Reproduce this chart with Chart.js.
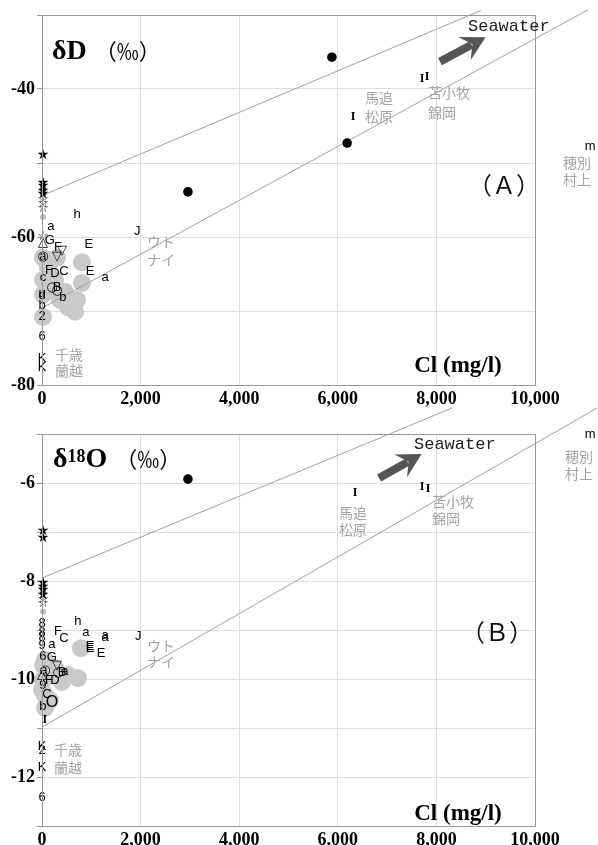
<!DOCTYPE html>
<html>
<head>
<meta charset="utf-8">
<title>δD・δ18O と Cl の関係</title>
<script src="https://cdn.jsdelivr.net/npm/chart.js"></script>
<style>
  body { margin: 0; background: #fff; }
  .panel { position: absolute; left: 0; width: 598px; }
  #panelA { top: 0; height: 420px; }
  #panelB { top: 400px; height: 445px; }
</style>
</head>
<body>
<div class="panel" id="panelA"><canvas id="chartA"></canvas></div>
<div class="panel" id="panelB"><canvas id="chartB"></canvas></div>
<script>
// ---- 軸 ----
const xTickStep = 2000;
const aYLabels = [-40, -60, -80];
const bYLabels = [-6, -8, -10, -12];

// ---- (A) δD ----
const aGlyphX = [20, 20, 20, 20, 20, 20, 20, 20,
  180, 710, 1930, 950, 975, 1280, 160, 20, 20, 325, 405, 305, 20, 20,
  140, 265, 445, 20, 200, 305, 305, 425, 0, 0, 0, 0, 0, 0, 0,
  6310, 7710, 7810, 11120];
const aGlyphY = [-48.9, -52.7, -53.2, -53.8, -54.3, -54.9, -55.5, -56.2,
  -58.6, -57.0, -59.3, -61.0, -64.7, -65.4, -60.4, -59.9, -60.8, -61.4, -61.8, -62.6, -62.6, -62.6,
  -64.5, -64.9, -64.7, -65.4, -66.9, -67.2, -66.8, -68.1, -67.6, -67.9, -69.2, -70.8, -73.5, -76.4, -77.6,
  -43.8, -38.6, -38.4, -47.8];
const aGlyphs = ['★', '★', '★', '★', '★', '☆', '☆', '☆',
  'a', 'h', 'J', 'E', 'E', 'a', 'G', '☆', '△', 'F', '▽', '▽', '○', 'a',
  'F', 'D', 'C', 'c', '○', '○', 'B', 'b', 'u', 'd', 'b', '2', '6', 'K', 'K',
  'I', 'I', 'I', 'm'];
const aDotX = [5880, 6190, 2960];
const aDotY = [-35.7, -47.3, -53.9];
const aSmallX = [20];
const aSmallY = [-57.3];
const aGrayX = [20, 120, 20, 160, 365, 530, 710, 670, 810, 810, 20, 305, 265, 20, 465];
const aGrayY = [-62.8, -64.2, -65.8, -67.2, -68.5, -69.5, -68.5, -70.1, -63.4, -66.2, -70.8, -62.8, -65.8, -67.8, -67.4];
const aMixUpperX = [0, 8900];
const aMixUpperY = [-54.4, -29.4];
const aMixLowerX = [0, 11075];
const aMixLowerY = [-69.6, -29.3];

// ---- (B) δ18O ----
const bGlyphX = [20, 20, 20, 20, 20, 20, 20, 20,
  0, 0, 0, 0, 200, 20, 200,
  730, 890, 1280, 1280, 1950, 325, 445, 975, 975, 1200,
  60, 40, 0, 305, 325, 405, 465, 140, 265,
  20, 100, 20, 200, 60, 0, 0, 0, 0,
  6350, 7710, 7830, 11120];
const bGlyphY = [-6.98, -7.12, -8.04, -8.12, -8.2, -8.29, -8.37, -8.47,
  -8.86, -9.04, -9.16, -9.31, -9.29, -9.53, -9.55,
  -8.82, -9.04, -9.16, -9.12, -9.14, -9.02, -9.18, -9.33, -9.37, -9.47,
  -9.82, -9.82, -9.92, -9.73, -9.86, -9.86, -9.84, -10.02, -10.02,
  -10.14, -10.31, -10.55, -10.49, -10.84, -11.37, -11.45, -11.8, -12.41,
  -6.2, -6.08, -6.12, -5.0];
const bGlyphs = ['★', '★', '★', '★', '★', '★', '☆', '☆',
  '8', '8', '8', '9', 'a', '6', 'G',
  'h', 'a', 'a', 'a', 'J', 'F', 'C', 'E', 'E', 'E',
  '○', 'a', '△', '▽', '○', 'B', 'a', 'F', 'D',
  '9', 'C', 'b', 'O', 'I', 'K', '2', 'K', '6',
  'I', 'I', 'I', 'm'];
const bDotX = [2960];
const bDotY = [-5.92];
const bSmallX = [20];
const bSmallY = [-8.63];
const bGrayX = [790, 60, 265, 530, 730, 20, 60, 60, 405, 20, 265, 0, 160];
const bGrayY = [-9.37, -9.61, -9.78, -9.92, -9.98, -10.02, -10.33, -10.59, -10.06, -9.71, -9.92, -10.22, -10.43];
const bMixUpperX = [0, 8316];
const bMixUpperY = [-7.94, -4.47];
const bMixLowerX = [0, 11258];
const bMixLowerY = [-10.98, -4.47];

// ---- 地域名など ----
const aAreaText = ['馬追', '松原', '苫小牧', '錦岡', '穂別', '村上', 'ウト', 'ナイ', '千歳', '蘭越'];
const aAreaX = [6550, 6550, 7830, 7830, 10568, 10568, 2130, 2130, 265, 265];
const aAreaY = [-41.2, -43.8, -40.5, -43.2, -50.0, -52.3, -60.7, -63.1, -75.9, -78.0];
const bAreaText = aAreaText;
const bAreaX = [6024, 6024, 7911, 7911, 10609, 10609, 2130, 2130, 245, 245];
const bAreaY = [-6.61, -6.96, -6.39, -6.73, -5.47, -5.82, -9.31, -9.65, -11.45, -11.82];

const pts = (xs, ys) => xs.map((x, i) => ({ x: x, y: ys[i] }));

function glyphFont(g) {
  if (g === '★') return '14px "DejaVu Sans"';
  if ('☆△▽○'.includes(g)) return '13px "DejaVu Sans"';
  if (g === 'I') return 'bold 12px "Liberation Serif"';
  if (g === 'O') return '16px "Liberation Sans"';
  return '13px "Liberation Sans"';
}

const glyphPlugin = {
  id: 'glyphs',
  afterDatasetsDraw(chart) {
    const ctx = chart.ctx;
    ctx.save();
    ctx.textAlign = 'center';
    ctx.textBaseline = 'middle';
    ctx.fillStyle = '#000';
    chart.data.datasets.forEach((ds, i) => {
      if (!ds.glyphs) return;
      chart.getDatasetMeta(i).data.forEach((el, j) => {
        ctx.font = glyphFont(ds.glyphs[j]);
        ctx.fillText(ds.glyphs[j], el.x, el.y);
      });
    });
    ctx.restore();
  }
};

function drawArrow(ctx, x1, y1, x2, y2) {
  const ang = Math.atan2(y2 - y1, x2 - x1);
  const c = Math.cos(ang), s = Math.sin(ang);
  const head = 20, hw = 13;
  const bx = x2 - head * c, by = y2 - head * s;
  ctx.strokeStyle = '#555';
  ctx.fillStyle = '#555';
  ctx.lineWidth = 8;
  ctx.beginPath(); ctx.moveTo(x1, y1); ctx.lineTo(bx + 4 * c, by + 4 * s); ctx.stroke();
  ctx.beginPath();
  ctx.moveTo(x2, y2);
  ctx.lineTo(bx + hw * s - 4 * c, by - hw * c - 4 * s);
  ctx.lineTo(bx + 5 * c, by + 5 * s);
  ctx.lineTo(bx - hw * s - 4 * c, by + hw * c - 4 * s);
  ctx.closePath(); ctx.fill();
}

const notesPlugin = {
  id: 'notes',
  afterDraw(chart, args, opts) {
    const ctx = chart.ctx, xs = chart.scales.x, ys = chart.scales.y, a = chart.chartArea;
    const px = v => xs.getPixelForValue(v), py = v => ys.getPixelForValue(v);
    ctx.save();
    // 枠
    ctx.strokeStyle = '#999'; ctx.lineWidth = 1;
    ctx.strokeRect(a.left + 0.5, a.top + 0.5, a.right - a.left, a.bottom - a.top);
    // 地域名
    ctx.fillStyle = '#a4a4a4';
    ctx.font = '14px "Noto Sans CJK JP"';
    ctx.textAlign = 'left'; ctx.textBaseline = 'middle';
    opts.areaText.forEach((t, i) => ctx.fillText(t, px(opts.areaX[i]), py(opts.areaY[i])));
    // Seawater
    ctx.fillStyle = '#222';
    ctx.font = '17px "Liberation Mono"';
    ctx.fillText('Seawater', px(opts.sea[0]), py(opts.sea[1]));
    drawArrow(ctx, px(opts.arrow[0]), py(opts.arrow[1]), px(opts.arrow[2]), py(opts.arrow[3]));
    // タイトル
    let x = px(opts.title[0]);
    const ty = py(opts.title[1]);
    ctx.fillStyle = '#000';
    ctx.textBaseline = 'alphabetic';
    const base = ty + 9;
    opts.titleParts.forEach(p => {
      ctx.font = p.font;
      ctx.fillText(p.t, x, base - (p.up || 0));
      x += ctx.measureText(p.t).width + (p.gap || 0);
    });
    // Cl (mg/l)
    ctx.textAlign = 'center'; ctx.textBaseline = 'middle';
    ctx.font = 'bold 23px "Liberation Serif"';
    ctx.fillText('Cl (mg/l)', px(opts.cl[0]), py(opts.cl[1]));
    // (A)/(B)
    ctx.font = '24px "Noto Sans CJK JP"';
    ctx.fillStyle = '#111';
    ctx.fillText(opts.tag, px(opts.tagPos[0]), py(opts.tagPos[1]));
    ctx.restore();
  }
};

function makeData(g) {
  return {
    datasets: [
      { data: pts(g.gx, g.gy), glyphs: g.glyphs, pointRadius: 0, clip: false },
      { data: pts(g.dx, g.dy), pointRadius: 4.8, backgroundColor: '#000', borderWidth: 0, clip: false },
      { data: pts(g.ux, g.uy), showLine: true, borderColor: '#a0a0a0', borderWidth: 1, pointRadius: 0, clip: false },
      { data: pts(g.lx, g.ly), showLine: true, borderColor: '#a0a0a0', borderWidth: 1, pointRadius: 0, clip: false },
      { data: pts(g.sx, g.sy), pointRadius: 3, backgroundColor: '#bdbdbd', borderWidth: 0, clip: false },
      { data: pts(g.grx, g.gry), pointRadius: 9, backgroundColor: '#c9c9c9', borderWidth: 0, clip: false }
    ]
  };
}

function makeOptions(c) {
  return {
    responsive: true, maintainAspectRatio: false, animation: false, events: [],
    layout: { padding: { top: c.padTop, right: 63, left: 0, bottom: 0 } },
    plugins: { legend: { display: false }, tooltip: { enabled: false }, notes: c.notes },
    scales: {
      x: {
        type: 'linear', min: 0, max: 10000,
        afterFit: s => { s.height = c.xHeight; },
        grid: { color: '#dedede', drawTicks: false },
        border: { color: '#999' },
        ticks: {
          stepSize: xTickStep, autoSkip: false, maxRotation: 0, padding: 4, color: '#000',
          font: { family: 'Liberation Serif', weight: 'bold', size: 18 },
          callback: v => v.toLocaleString('en-US')
        }
      },
      y: {
        type: 'linear', min: c.yMin, max: c.yMax,
        afterFit: s => { s.width = 42; },
        grid: { color: '#dedede', tickLength: 5, tickColor: '#999' },
        border: { color: '#999' },
        ticks: {
          stepSize: c.yStep, autoSkip: false, padding: 2, color: '#000',
          font: { family: 'Liberation Serif', weight: 'bold', size: 18 },
          callback: v => c.yLabels.includes(v) ? String(v) : ''
        }
      }
    }
  };
}

Chart.register(glyphPlugin, notesPlugin);

new Chart(document.getElementById('chartA'), {
  type: 'scatter',
  data: makeData({ gx: aGlyphX, gy: aGlyphY, glyphs: aGlyphs, dx: aDotX, dy: aDotY,
    ux: aMixUpperX, uy: aMixUpperY, lx: aMixLowerX, ly: aMixLowerY,
    sx: aSmallX, sy: aSmallY, grx: aGrayX, gry: aGrayY }),
  options: makeOptions({
    padTop: 15, xHeight: 35, yMin: -80, yMax: -30, yStep: 10, yLabels: aYLabels,
    notes: {
      areaText: aAreaText, areaX: aAreaX, areaY: aAreaY,
      sea: [8641, -31.6], arrow: [8073, -36.3, 9000, -33.0],
      title: [203, -34.7],
      titleParts: [
        { t: 'δD', font: 'bold 28px "Liberation Serif"', gap: 8 },
        { t: '（‰）', font: '22px "Noto Sans CJK JP"' }
      ],
      cl: [8438, -77.4], tag: '（Ａ）', tagPos: [9371, -53.0]
    }
  })
});

new Chart(document.getElementById('chartB'), {
  type: 'scatter',
  data: makeData({ gx: bGlyphX, gy: bGlyphY, glyphs: bGlyphs, dx: bDotX, dy: bDotY,
    ux: bMixUpperX, uy: bMixUpperY, lx: bMixLowerX, ly: bMixLowerY,
    sx: bSmallX, sy: bSmallY, grx: bGrayX, gry: bGrayY }),
  options: makeOptions({
    padTop: 34, xHeight: 19, yMin: -13, yMax: -5, yStep: 1, yLabels: bYLabels,
    notes: {
      areaText: bAreaText, areaX: bAreaX, areaY: bAreaY,
      sea: [7546, -5.22], arrow: [6836, -5.9, 7700, -5.41],
      title: [223, -5.49],
      titleParts: [
        { t: 'δ', font: 'bold 28px "Liberation Serif"' },
        { t: '18', font: 'bold 18px "Liberation Serif"', up: 5 },
        { t: 'O', font: 'bold 28px "Liberation Serif"', gap: 8 },
        { t: '（‰）', font: '22px "Noto Sans CJK JP"' }
      ],
      cl: [8438, -12.76], tag: '（Ｂ）', tagPos: [9229, -9.04]
    }
  })
});
</script>
</body>
</html>
